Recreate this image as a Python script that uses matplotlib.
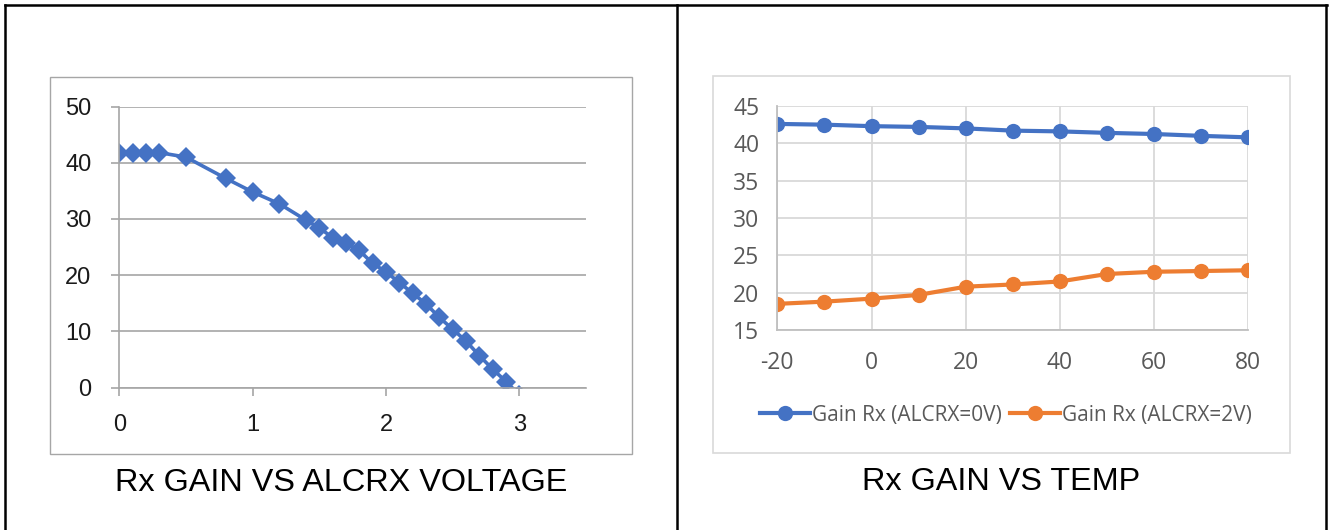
import matplotlib
matplotlib.use('Agg')
import matplotlib.pyplot as plt
from matplotlib.lines import Line2D
from matplotlib.patches import Rectangle

plt.rcParams['axes.unicode_minus'] = False

# Rx gain vs ALCRX voltage
alc_voltage = [0, 0.1, 0.2, 0.3, 0.5, 0.8, 1.0, 1.2, 1.4, 1.5, 1.6, 1.7, 1.8, 1.9,
               2.0, 2.1, 2.2, 2.3, 2.4, 2.5, 2.6, 2.7, 2.8, 2.9, 3.0]
gain_vs_voltage = [41.8, 41.8, 41.8, 41.8, 41.0, 37.2, 34.8, 32.7, 29.8, 28.4, 26.7, 25.7,
                   24.4, 22.1, 20.6, 18.7, 16.8, 14.9, 12.5, 10.4, 8.3, 5.7, 3.3, 1.1, -1.3]

# Rx gain vs temperature
temps = [-20, -10, 0, 10, 20, 30, 40, 50, 60, 70, 80]
gain_0v = [42.6, 42.5, 42.3, 42.2, 42.0, 41.7, 41.6, 41.4, 41.25, 41.0, 40.8]
gain_2v = [18.5, 18.8, 19.2, 19.7, 20.8, 21.1, 21.5, 22.5, 22.8, 22.9, 23.0]

W, H = 1332, 530
fig = plt.figure(figsize=(W / 100, H / 100), dpi=100)


def px_rect(x0, y0, x1, y1):
    # pixel box (top-left origin) -> figure fraction [l, b, w, h]
    return [x0 / W, 1 - y1 / H, (x1 - x0) / W, (y1 - y0) / H]


# table borders
for xs, ys in [((4.5, 1327), (5, 5)), ((5, 5), (5, 530)),
               ((677, 677), (5, 530)), ((1326, 1326), (5, 530))]:
    fig.add_artist(Line2D([x / W for x in xs], [1 - y / H for y in ys],
                          color='black', lw=1.8, transform=fig.transFigure))

# chart frames
fig.add_artist(Rectangle((50 / W, 1 - 454.3 / H), (632.3 - 50) / W, (454.3 - 76.7) / H,
                         transform=fig.transFigure, fill=False, ec='#a6a6a6', lw=1.0))
fig.add_artist(Rectangle((713 / W, 1 - 453 / H), (1289.5 - 713) / W, (453 - 76) / H,
                         transform=fig.transFigure, fill=False, ec='#d9d9d9', lw=1.2))

# ---- left chart ----
ax1 = fig.add_axes(px_rect(119.3, 106.5, 586, 387.7))
ax1.plot(alc_voltage, gain_vs_voltage, color='#4472C4', lw=2.6, marker='D',
         markersize=10, markeredgewidth=0)
ax1.set_xlim(0, 3.5)
ax1.set_ylim(0, 50)
ax1.set_xticks([0, 1, 2, 3])
ax1.set_yticks(range(0, 51, 10))
ax1.grid(axis='y', color='#a6a6a6', lw=1.2)
ax1.set_axisbelow(True)
for s in ['top', 'right']:
    ax1.spines[s].set_visible(False)
for s in ['left', 'bottom']:
    ax1.spines[s].set_color('#a6a6a6')
    ax1.spines[s].set_linewidth(1.2)
ax1.tick_params(axis='both', colors='#a6a6a6', labelcolor='#1a1a1a', length=6, width=1.2,
                labelsize=17)
ax1.tick_params(axis='x', pad=13)
ax1.tick_params(axis='y', pad=14)
for lab in ax1.get_xticklabels() + ax1.get_yticklabels():
    lab.set_family('Liberation Sans')
ax1.patch.set_alpha(0)

fig.text(340.7 / W, 1 - 483 / H, 'Rx GAIN VS ALCRX VOLTAGE', ha='center', va='center',
         fontsize=23.3, family='Liberation Sans', color='black')

# ---- right chart ----
ax2 = fig.add_axes(px_rect(777.3, 106, 1248.3, 330))
ax2.plot(temps, gain_0v, color='#4472C4', lw=3, marker='o', markersize=11,
         markeredgewidth=0, label='Gain Rx (ALCRX=0V)')
ax2.plot(temps, gain_2v, color='#ED7D31', lw=3, marker='o', markersize=11,
         markeredgewidth=0, label='Gain Rx (ALCRX=2V)')
ax2.set_xlim(-20, 80)
ax2.set_ylim(15, 45)
ax2.set_xticks(range(-20, 81, 20))
ax2.set_yticks(range(15, 46, 5))
ax2.grid(True, color='#d9d9d9', lw=1.3)
ax2.set_axisbelow(True)
for s in ['top', 'right']:
    ax2.spines[s].set_visible(False)
for s in ['left', 'bottom']:
    ax2.spines[s].set_color('#bfbfbf')
    ax2.spines[s].set_linewidth(1.3)
ax2.tick_params(axis='both', length=0, labelcolor='#595959', labelsize=16.5)
ax2.tick_params(axis='x', pad=15)
ax2.tick_params(axis='y', pad=13)
for lab in ax2.get_xticklabels() + ax2.get_yticklabels():
    lab.set_family('Open Sans')
ax2.patch.set_alpha(0)

leg = ax2.legend(loc='center', bbox_to_anchor=(1006 / W, 1 - 415 / H),
                 bbox_transform=fig.transFigure, ncol=2, frameon=False,
                 handlelength=2.4, handletextpad=0.1, columnspacing=0.35,
                 prop={'family': 'Open Sans', 'size': 15})
for t in leg.get_texts():
    t.set_color('#595959')

fig.text(1001 / W, 1 - 482 / H, 'Rx GAIN VS TEMP', ha='center', va='center',
         fontsize=23.3, family='Liberation Sans', color='black')

fig.savefig('out.png', dpi=100)
